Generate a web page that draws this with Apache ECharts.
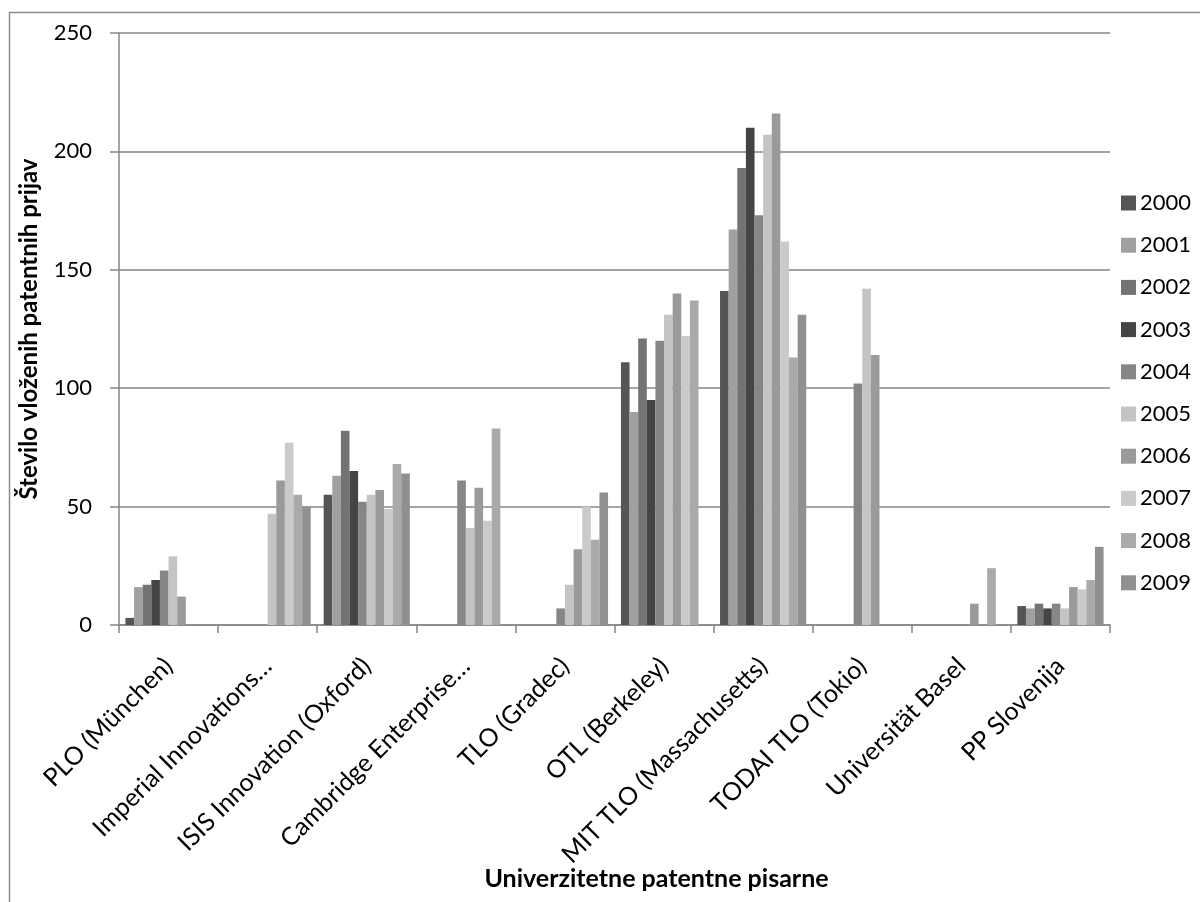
<!DOCTYPE html>
<html>
<head>
<meta charset="utf-8">
<script src="https://cdn.jsdelivr.net/npm/echarts@6/dist/echarts.min.js"></script>
<style>
html,body{margin:0;padding:0;background:#fff;}
#chart{width:1200px;height:902px;}
</style>
</head>
<body>
<div id="chart"></div>
<script>
var categories = ["PLO (München)", "Imperial Innovations…", "ISIS Innovation (Oxford)", "Cambridge Enterprise…", "TLO (Gradec)", "OTL (Berkeley)", "MIT TLO (Massachusetts)", "TODAI TLO (Tokio)", "Universität Basel", "PP Slovenija"];
var years = ["2000","2001","2002","2003","2004","2005","2006","2007","2008","2009"];
var y2000 = [3, null, 55, null, null, 111, 141, null, null, 8];
var y2001 = [16, null, 63, null, null, 90, 167, null, null, 7];
var y2002 = [17, null, 82, null, null, 121, 193, null, null, 9];
var y2003 = [19, null, 65, null, null, 95, 210, null, null, 7];
var y2004 = [23, null, 52, 61, 7, 120, 173, 102, null, 9];
var y2005 = [29, 47, 55, 41, 17, 131, 207, 142, null, 7];
var y2006 = [12, 61, 57, 58, 32, 140, 216, 114, 9, 16];
var y2007 = [null, 77, 49, 44, 50, 122, 162, null, null, 15];
var y2008 = [null, 55, 68, 83, 36, 137, 113, null, 24, 19];
var y2009 = [null, 50, 64, null, 56, null, 131, null, null, 33];
var yTicks = [0, 50, 100, 150, 200, 250];

var seriesData = [y2000,y2001,y2002,y2003,y2004,y2005,y2006,y2007,y2008,y2009];
var colors = ["#555555","#a0a0a0","#737373","#444444","#868686","#c4c4c4","#9a9a9a","#cacaca","#aaaaaa","#909090"];
var FONT = "Lato, 'Open Sans', sans-serif";

var series = years.map(function(y, i){
  return {
    name: y,
    type: 'bar',
    data: seriesData[i],
    barGap: '0%',
    barCategoryGap: '13%',
    itemStyle: {color: colors[i]},
    animation: false
  };
});

var chart = echarts.init(document.getElementById('chart'), null, {renderer: 'canvas'});
chart.setOption({
  backgroundColor: '#ffffff',
  animation: false,
  color: colors,
  textStyle: {fontFamily: FONT},
  graphic: [{
    type: 'rect',
    shape: {x: 9.5, y: 12.5, width: 1400, height: 1200},
    style: {fill: 'none', stroke: '#8c8c8c', lineWidth: 1.5},
    silent: true
  }],
  grid: {left: 119, right: 90, top: 33, bottom: 277, containLabel: false, outerBoundsMode: 'none'},
  legend: {
    orient: 'vertical',
    left: 1116,
    top: 187,
    itemWidth: 15,
    itemHeight: 15,
    itemGap: 20.2,
    icon: 'rect',
    data: years,
    textStyle: {fontFamily: FONT, fontSize: 22, color: '#000', lineHeight: 15, padding: [0,0,0,-1]}
  },
  xAxis: {
    type: 'category',
    data: categories,
    name: 'Univerzitetne patentne pisarne',
    nameLocation: 'middle',
    nameGap: 241,
    nameMoveOverlap: false,
    nameTextStyle: {fontFamily: FONT, fontSize: 25, fontWeight: 'bold', color: '#000', padding: [0,0,0,84]},
    axisLine: {show: true, lineStyle: {color: '#868686', width: 1.5}},
    axisTick: {show: true, interval: 0, length: 8, lineStyle: {color: '#868686', width: 1.5}},
    axisLabel: {interval: 0, rotate: 45, fontSize: 25, color: '#000', margin: 37, align: 'right', verticalAlign: 'middle', fontFamily: FONT},
    splitLine: {show: false}
  },
  yAxis: {
    type: 'value',
    min: 0,
    max: 250,
    interval: 50,
    name: 'Število vloženih patentnih prijav',
    nameLocation: 'middle',
    nameGap: 78,
    nameMoveOverlap: false,
    nameTextStyle: {fontFamily: FONT, fontSize: 24, fontWeight: 'bold', color: '#000'},
    axisLine: {show: true, lineStyle: {color: '#868686', width: 1.5}},
    axisTick: {show: true, inside: false, length: 9, lineStyle: {color: '#868686', width: 1.5}},
    axisLabel: {fontSize: 22, color: '#000', margin: 27, fontFamily: FONT,
      formatter: function(v){ return yTicks.indexOf(v) >= 0 ? String(v) : ''; }},
    splitLine: {show: true, lineStyle: {color: '#868686', width: 1.5}}
  },
  series: series
});
</script>
</body>
</html>
